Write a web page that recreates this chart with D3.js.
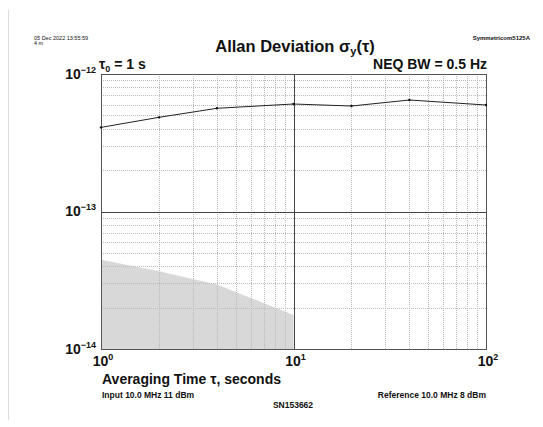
<!DOCTYPE html>
<html><head><meta charset="utf-8">
<script src="https://cdn.jsdelivr.net/npm/d3@7"></script>
<style>body{margin:0;background:#fff}svg{display:block;font-family:"Liberation Sans",Arial,Helvetica,sans-serif}</style>
</head><body>
<svg id="c" width="543" height="427"></svg>
<script>
const tau = [1, 2, 4, 10, 20, 40, 100];
const adev = [4.09e-13, 4.84e-13, 5.63e-13, 6.05e-13, 5.85e-13, 6.47e-13, 5.95e-13];
const floorTau = [1, 2, 4, 10];
const floorAdev = [4.45e-14, 3.68e-14, 2.94e-14, 1.77e-14];
const xDecades = [1, 10, 100];
const yDecades = [1e-14, 1e-13, 1e-12];
const xExp = ["0", "1", "2"];
const yExp = ["\u221214", "\u221213", "\u221212"];

const svg = d3.select("#c");
const L = 101, R = 486, T = 74, B = 349;
const x = d3.scaleLog().domain([1, 100]).range([L, R]);
const y = d3.scaleLog().domain([1e-14, 1e-12]).range([B, T]);

// page border line
svg.append("line").attr("x1", 8.5).attr("x2", 8.5).attr("y1", 10).attr("y2", 420)
  .attr("stroke", "#ddd").attr("stroke-width", 1);

// floor area
const area = d3.area().x((d, i) => x(floorTau[i])).y0(B).y1(d => y(d));
svg.append("path").datum(floorAdev).attr("d", area).attr("fill", "#d8d8d8");

// minor grid
const minorX = [], minorY = [];
[1, 10].forEach(d => { for (let k = 2; k <= 9; k++) minorX.push(d * k); });
[1e-14, 1e-13].forEach(d => { for (let k = 2; k <= 9; k++) minorY.push(d * k); });
svg.append("g").selectAll("line").data(minorX).join("line")
  .attr("x1", d => Math.round(x(d)) + 0.5).attr("x2", d => Math.round(x(d)) + 0.5)
  .attr("y1", T).attr("y2", B).attr("stroke", "#bbb").attr("stroke-dasharray", "1,1");
svg.append("g").selectAll("line").data(minorY).join("line")
  .attr("y1", d => Math.round(y(d)) + 0.5).attr("y2", d => Math.round(y(d)) + 0.5)
  .attr("x1", L).attr("x2", R).attr("stroke", "#bbb").attr("stroke-dasharray", "1,1");

// major grid
svg.append("g").selectAll("line").data(xDecades).join("line")
  .attr("x1", d => Math.round(x(d)) + 0.5).attr("x2", d => Math.round(x(d)) + 0.5)
  .attr("y1", T).attr("y2", B).attr("stroke", "#444");
svg.append("g").selectAll("line").data(yDecades).join("line")
  .attr("y1", d => Math.round(y(d)) + 0.5).attr("y2", d => Math.round(y(d)) + 0.5)
  .attr("x1", L).attr("x2", R).attr("stroke", "#444");
svg.append("rect").attr("x", L + 0.5).attr("y", T + 0.5).attr("width", R - L).attr("height", B - T)
  .attr("fill", "none").attr("stroke", "#555");

// data line
const line = d3.line().x((d, i) => x(tau[i])).y(d => y(d));
svg.append("path").datum(adev).attr("d", line).attr("fill", "none").attr("stroke", "#222").attr("stroke-width", 1);
svg.append("g").selectAll("circle").data(adev).join("circle")
  .attr("cx", (d, i) => x(tau[i])).attr("cy", d => y(d)).attr("r", 1.2).attr("fill", "#111");

// tick labels
const yl = svg.append("g").selectAll("text").data(yDecades).join("text")
  .attr("x", L - 5).attr("y", d => y(d) + 4.5).attr("text-anchor", "end")
  .attr("font-weight", "bold").attr("font-size", 14).attr("fill", "#111");
yl.append("tspan").text("10");
yl.append("tspan").attr("font-size", 9).attr("dy", -6).text((d, i) => yExp[i]);

const xl = svg.append("g").selectAll("text").data(xDecades).join("text")
  .attr("x", d => x(d) + 2).attr("y", 366).attr("text-anchor", "middle")
  .attr("font-weight", "bold").attr("font-size", 14).attr("fill", "#111");
xl.append("tspan").text("10");
xl.append("tspan").attr("font-size", 9).attr("dy", -6).text((d, i) => xExp[i]);

// texts
function txt(s, xx, yy, size, anchor, weight) {
  return svg.append("text").attr("x", xx).attr("y", yy).attr("font-size", size)
    .attr("text-anchor", anchor || "start").attr("font-weight", weight || "bold").attr("fill", "#111").text(s);
}
txt("05 Dec 2022 13:55:59", 34, 40, 5.5, "start", "normal");
txt("4 m", 34, 45, 5.5, "start", "normal");
txt("Symmetricom5125A", 530, 40, 6, "end", "bold");
const title = svg.append("text").attr("x", 295).attr("y", 52).attr("text-anchor", "middle")
  .attr("font-size", 16.5).attr("font-weight", "bold").attr("fill", "#111");
title.append("tspan").text("Allan Deviation \u03c3");
title.append("tspan").attr("font-size", 11).attr("dy", 3).text("y");
title.append("tspan").attr("dy", -3).text("(\u03c4)");
const t0 = svg.append("text").attr("x", 99).attr("y", 69).attr("font-size", 14).attr("font-weight", "bold").attr("fill", "#111");
t0.append("tspan").text("\u03c4");
t0.append("tspan").attr("font-size", 9).attr("dy", 3).text("0");
t0.append("tspan").attr("dy", -3).text(" = 1 s");
txt("NEQ BW = 0.5 Hz", 487, 69, 14, "end");
txt("Averaging Time \u03c4, seconds", 102, 384, 14);
txt("Input 10.0 MHz 11 dBm", 102, 398, 8.5);
txt("Reference 10.0 MHz 8 dBm", 486, 398, 8.5, "end");
txt("SN153662", 293, 408, 8.5, "middle");
</script>
</body></html>
